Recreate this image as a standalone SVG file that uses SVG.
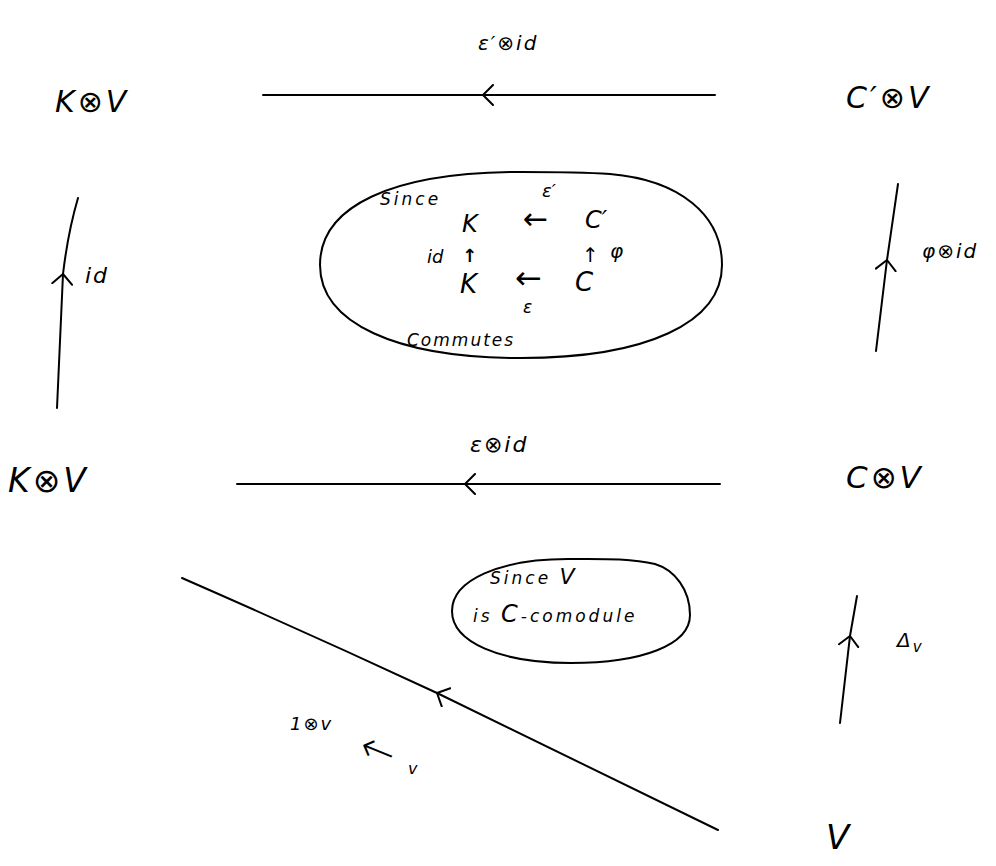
<svg xmlns="http://www.w3.org/2000/svg" width="996" height="866" viewBox="0 0 996 866">
<style>
text{font-family:"DejaVu Sans","Noto Sans",sans-serif;font-style:italic;fill:#000}
.node{font-size:30px;letter-spacing:3px}
.lbl{font-size:20px;letter-spacing:2px}
.sm{font-size:17px;letter-spacing:3px}
.edge{fill:none;stroke:#000;stroke-width:2;stroke-linecap:round;marker-mid:url(#chev)}
.blob{fill:none;stroke:#000;stroke-width:2}
.up{font-style:normal}
</style>
<defs>
<marker id="chev" viewBox="0 0 12 22" refX="11" refY="11" markerWidth="12" markerHeight="22" markerUnits="userSpaceOnUse" orient="auto">
<path d="M1,1 L11,11 L1,21" fill="none" stroke="#000" stroke-width="2" stroke-linecap="round" stroke-linejoin="round"/>
</marker>
</defs>
<rect width="996" height="866" fill="#fff"/>
<g id="connectors">
<path id="e-top" class="edge" d="M715,95 L483,95 L263,95"/>
<path id="e-mid" class="edge" d="M720,484 L465,484 L237,484"/>
<path id="e-left" class="edge" d="M57,408 L63,274 Q68,232 78,198"/>
<path id="e-right" class="edge" d="M876,351 L887,260 L898,184"/>
<path id="e-delta" class="edge" d="M840,723 L850,636 L857,596"/>
<path id="e-diag" class="edge" d="M718,830 Q578,762 437,693 Q310,634 182,578"/>
<text class="lbl" x="478" y="50">ε′⊗id</text>
<text class="lbl" x="470" y="452" style="font-size:22px">ε⊗id</text>
<text class="lbl" x="85" y="283" style="font-size:22px">id</text>
<text class="lbl" x="922" y="258">φ⊗id</text>
<text class="lbl" x="897" y="647">Δ<tspan font-size="15" dy="5">v</tspan></text>
<text class="lbl" x="290" y="730" style="font-size:18px">1⊗v</text>
<text class="up" x="360" y="765" font-size="42" font-weight="200" transform="rotate(22 380 752)">←</text>
<text x="408" y="774" font-size="16">v</text>
</g>
<g id="n-kv-top"><text class="node" x="55" y="112">K⊗V</text></g>
<g id="n-cpv"><text class="node" x="846" y="108">C′⊗V</text></g>
<g id="n-kv-mid"><text class="node" x="8" y="492" style="font-size:33px">K⊗V</text></g>
<g id="n-cv"><text class="node" x="846" y="488" style="font-size:31px">C⊗V</text></g>
<g id="n-v"><text class="node" x="826" y="849" style="font-size:34px">V</text></g>
<g id="note-commutes">
<path class="blob" d="M521,172 C390,172 320,207 320,265 C320,323 396,358 521,358 C646,358 722,323 722,265 C722,215 680,180 610,174 C580,172 550,172 521,172 Z"/>
<text class="sm" x="380" y="205">Since</text>
<text x="542" y="197" font-size="18">ε′</text>
<text x="462" y="232" font-size="24">K</text>
<text class="up" x="523" y="229" font-size="30">←</text>
<text x="585" y="228" font-size="24">C′</text>
<text x="427" y="263" font-size="18">id</text>
<text class="up" x="462" y="262" font-size="18" font-weight="bold">↑</text>
<text class="up" x="582" y="262" font-size="20">↑</text>
<text x="610" y="258" font-size="20">φ</text>
<text x="460" y="293" font-size="26">K</text>
<text class="up" x="515" y="289" font-size="32">←</text>
<text x="575" y="291" font-size="26">C</text>
<text x="523" y="313" font-size="17">ε</text>
<text class="sm" x="407" y="346" style="letter-spacing:2px">Commutes</text>
</g>
<g id="note-comodule">
<path class="blob" d="M568,559 C500,559 452,580 452,611 C452,642 500,663 571,663 C642,663 690,645 690,615 C690,590 675,570 655,564 C630,558 600,559 568,559 Z"/>
<text class="sm" x="490" y="584">Since <tspan font-size="22">V</tspan></text>
<text class="sm" x="473" y="622">is <tspan font-size="24">C</tspan>-comodule</text>
</g>
</svg>
